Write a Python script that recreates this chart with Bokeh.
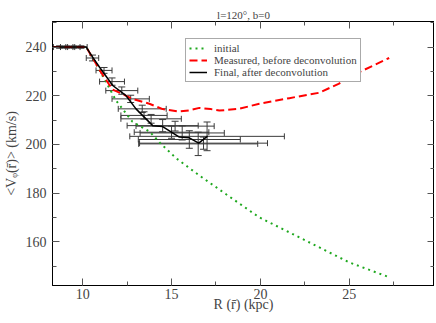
from bokeh.plotting import figure
from bokeh.models import (ColumnDataSource, Whisker, TeeHead, LinearAxis, SingleIntervalTicker,
                          Range1d, Legend, LegendItem, CustomLabelingPolicy)
from bokeh.embed import file_html
from bokeh.resources import INLINE

# ---- data ----
init_r = [8.3, 10.2, 10.6, 11.13, 11.88, 12.8, 13.76, 14.35, 15.26, 16.57, 18.44, 19.94, 22.57, 25.0, 27.25]
init_v = [240, 240, 235, 228, 218, 209.3, 205.3, 200.6, 194.3, 187.2, 177.6, 170.0, 160.4, 151.5, 145.4]

meas_r = [8.3, 10.2, 10.6, 11.0, 11.68, 12.3, 12.8, 13.75, 14.5, 15.44, 16.0, 16.57, 17.2, 17.69,
          18.8, 19.94, 21.63, 23.3, 24.4, 25.57, 27.25]
meas_v = [240, 240, 235, 230, 222.5, 220.5, 218.7, 216.7, 214.5, 213.5, 214.0, 215.0, 214.5, 213.9,
          214.6, 216.7, 219.0, 221.2, 224.9, 229.7, 235.5]

final_r = [8.3, 10.2, 10.5, 10.94, 11.69, 12.44, 13.0, 13.94, 14.5, 15.44, 16.0, 16.53, 17.03]
final_v = [240, 240, 236.5, 231.8, 224.2, 220.0, 214.6, 207.7, 207.3, 203.0, 202.7, 200.5, 203.4]

eb_r = [8.7, 9.1, 9.5, 9.9, 10.55, 11.2, 11.65, 12.2, 12.7, 13.35, 13.45, 13.85, 14.5, 15.0,
        15.2, 15.6, 16.0, 16.5, 16.8, 17.0]
eb_v = [240, 240, 240, 240, 235.5, 230.4, 225.8, 222.1, 218.7, 214.6, 211.9, 210.5, 207.7, 205.0,
        207.5, 204.7, 202.0, 200.2, 200.5, 203.3]
eb_rerr = [0.35, 0.35, 0.35, 0.35, 0.35, 0.45, 0.7, 0.9, 1.05, 1.35, 1.3, 1.7, 2.0, 2.1,
           2.2, 2.37, 2.87, 3.35, 3.6, 4.35]
eb_verr = [0.5, 0.5, 0.5, 0.5, 1.2, 1.2, 1.5, 1.5, 1.5, 1.5, 1.5, 1.8, 2.5, 2.5,
           2.0, 2.9, 3.6, 4.8, 2.5, 5.9]

x_ticks_interval = 5
y_ticks_interval = 20

FONT = "'Liberation Serif', 'DejaVu Serif', serif"

p = figure(frame_width=382, frame_height=264, output_backend="svg", toolbar_location=None,
           x_range=Range1d(8.3, 29.8), y_range=Range1d(142, 250.5),
           min_border_left=0, min_border_right=0, min_border_top=21, min_border_bottom=0,
           title="l=120\u00b0, b=0")
p.title.align = "center"
p.title.text_font = FONT
p.title.text_font_size = "11px"
p.title.text_font_style = "normal"
p.title.standoff = 2
p.xgrid.visible = False
p.ygrid.visible = False
p.outline_line_color = "black"
p.background_fill_color = "white"

p.xaxis.ticker = SingleIntervalTicker(interval=x_ticks_interval, num_minor_ticks=2)
p.yaxis.ticker = SingleIntervalTicker(interval=y_ticks_interval, num_minor_ticks=2)
p.xaxis.axis_label = "R (r\u0304) (kpc)"
p.yaxis.axis_label = "<V\u1d69(r\u0304)> (km/s)"

for ax in [p.xaxis[0], p.yaxis[0]]:
    ax.major_tick_in = 7
    ax.major_tick_out = 0
    ax.minor_tick_in = 4
    ax.minor_tick_out = 0
    ax.major_tick_line_color = "#555555"
    ax.minor_tick_line_color = "#555555"
    ax.axis_line_color = "black"
    ax.major_label_text_font = FONT
    ax.major_label_text_font_size = "14px"
    ax.axis_label_text_font = FONT
    ax.axis_label_text_font_size = "14px"
    ax.axis_label_text_font_style = "normal"
p.xaxis.major_label_standoff = 3
p.xaxis.axis_label_standoff = -5
p.yaxis.major_label_standoff = 6
p.yaxis.axis_label_standoff = 4

hide_all = CustomLabelingPolicy(
    code="const n = indices.size; for (let i = 0; i < n; i++) { indices.unset(i) } return indices")

for loc, interval in [("right", y_ticks_interval), ("above", x_ticks_interval)]:
    ax = LinearAxis(ticker=SingleIntervalTicker(interval=interval, num_minor_ticks=2),
                    major_label_policy=hide_all,
                    major_label_text_font_size="0px",
                    major_label_standoff=0,
                    major_tick_in=7, major_tick_out=0, minor_tick_in=4, minor_tick_out=0,
                    major_tick_line_color="#555555", minor_tick_line_color="#555555",
                    axis_line_color="black")
    p.add_layout(ax, loc)

# error bars
ebs = ColumnDataSource(dict(
    r=eb_r, v=eb_v,
    rlo=[a - b for a, b in zip(eb_r, eb_rerr)], rhi=[a + b for a, b in zip(eb_r, eb_rerr)],
    vlo=[a - b for a, b in zip(eb_v, eb_verr)], vhi=[a + b for a, b in zip(eb_v, eb_verr)],
))
ec = "#3a3a3a"
p.add_layout(Whisker(source=ebs, base="v", lower="rlo", upper="rhi", dimension="width",
                     line_color=ec, line_width=1,
                     lower_head=TeeHead(size=6, line_color=ec), upper_head=TeeHead(size=6, line_color=ec)))
p.add_layout(Whisker(source=ebs, base="r", lower="vlo", upper="vhi", dimension="height",
                     line_color=ec, line_width=1,
                     lower_head=TeeHead(size=7, line_color=ec), upper_head=TeeHead(size=7, line_color=ec)))

g1 = p.line(init_r, init_v, line_color="#1fa81f", line_width=2, line_dash="2 4")
g2 = p.line(meas_r, meas_v, line_color="#ff0000", line_width=2, line_dash="8 4")
g3 = p.line(final_r, final_v, line_color="black", line_width=1.5)

legend = Legend(items=[LegendItem(label="initial", renderers=[g1]),
                       LegendItem(label="Measured, before deconvolution", renderers=[g2]),
                       LegendItem(label="Final, after deconvolution", renderers=[g3])],
                location=(133, 203))
legend.label_text_font = FONT
legend.label_text_font_size = "11px"
legend.label_height = 12
legend.glyph_height = 12
legend.glyph_width = 18
legend.label_standoff = 7
legend.spacing = 0
legend.padding = 3
legend.margin = 0
legend.border_line_color = "#555555"
legend.border_line_width = 1
legend.background_fill_alpha = 1
p.add_layout(legend)

open("out.html", "w").write(file_html(p, INLINE))
